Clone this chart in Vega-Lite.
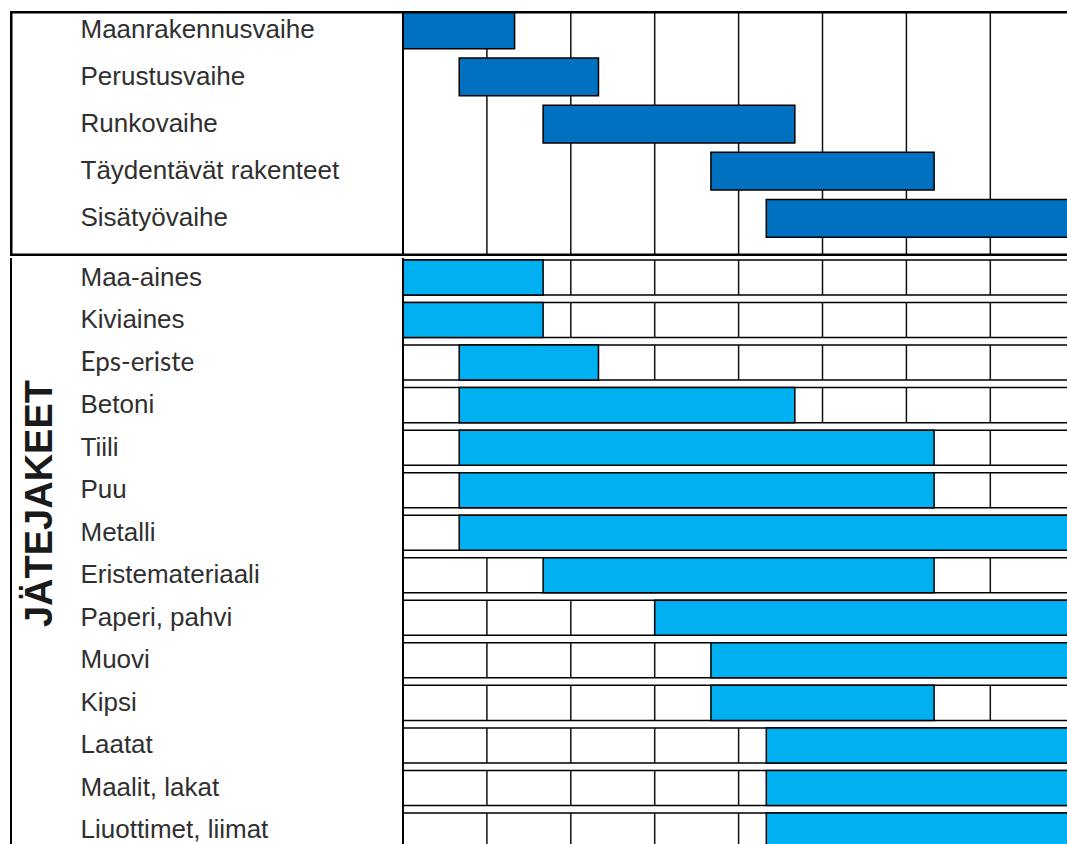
{
  "$schema": "https://vega.github.io/schema/vega-lite/v6.json",
  "padding": {"left": 10, "top": 10, "right": 0, "bottom": 0},
  "background": "white",
  "spacing": 0,
  "config": {
    "view": {"stroke": null},
    "axisY": {
      "domain": false, "ticks": false, "grid": false,
      "labelAlign": "left", "labelPadding": -70, "labelFontSize": 26,
      "labelFont": "Liberation Sans", "labelColor": "#303030", "labelLimit": 600
    }
  },
  "datasets": {
    "cols": [{"c": 1}, {"c": 2}, {"c": 3}, {"c": 4}, {"c": 5}, {"c": 6}, {"c": 7}],
    "frame": [{"k": "frame"}],
    "phases": [
      {"phase": "Maanrakennusvaihe", "start": 0, "end": 1.33},
      {"phase": "Perustusvaihe", "start": 0.67, "end": 2.33},
      {"phase": "Runkovaihe", "start": 1.67, "end": 4.67},
      {"phase": "Täydentävät rakenteet", "start": 3.67, "end": 6.33},
      {"phase": "Sisätyövaihe", "start": 4.33, "end": 8}
    ],
    "waste": [
      {"jae": "Maa-aines", "start": 0, "end": 1.67},
      {"jae": "Kiviaines", "start": 0, "end": 1.67},
      {"jae": "Eps-eriste", "start": 0.67, "end": 2.33},
      {"jae": "Betoni", "start": 0.67, "end": 4.67},
      {"jae": "Tiili", "start": 0.67, "end": 6.33},
      {"jae": "Puu", "start": 0.67, "end": 6.33},
      {"jae": "Metalli", "start": 0.67, "end": 8},
      {"jae": "Eristemateriaali", "start": 1.67, "end": 6.33},
      {"jae": "Paperi, pahvi", "start": 3, "end": 8},
      {"jae": "Muovi", "start": 3.67, "end": 8},
      {"jae": "Kipsi", "start": 3.67, "end": 6.33},
      {"jae": "Laatat", "start": 4.33, "end": 8},
      {"jae": "Maalit, lakat", "start": 4.33, "end": 8},
      {"jae": "Liuottimet, liimat", "start": 4.33, "end": 8}
    ]
  },
  "vconcat": [
    {
      "width": 1057,
      "height": 245,
      "layer": [
        {
          "data": {"name": "cols"},
          "mark": {"type": "rule", "color": "#111111", "strokeWidth": 1.5},
          "encoding": {
            "x": {"field": "c", "type": "quantitative", "scale": {"domain": [-4.684, 7.914], "nice": false, "zero": false}, "axis": null}
          }
        },
        {
          "data": {"name": "phases"},
          "mark": {"type": "bar", "color": "#0070C0", "stroke": "#000000", "strokeWidth": 1.5, "clip": true},
          "encoding": {
            "x": {"field": "start", "type": "quantitative", "scale": {"domain": [-4.684, 7.914], "nice": false, "zero": false}, "axis": null},
            "x2": {"field": "end"},
            "y": {"field": "phase", "type": "nominal", "sort": null,
              "scale": {"paddingInner": 0.2, "paddingOuter": 0.2, "align": 0, "round": false},
              "axis": {"title": null}}
          }
        },
        {
          "data": {"name": "frame"},
          "mark": {"type": "rule", "color": "#000000", "strokeWidth": 2},
          "encoding": {
            "x": {"datum": 0, "type": "quantitative", "scale": {"domain": [-4.684, 7.914], "nice": false, "zero": false}, "axis": null}
          }
        },
        {
          "data": {"name": "frame"},
          "mark": {"type": "rect", "filled": false, "stroke": "#000000", "strokeWidth": 5, "clip": true},
          "encoding": {
            "x": {"datum": -4.684, "type": "quantitative", "scale": {"domain": [-4.684, 7.914], "nice": false, "zero": false}, "axis": null},
            "x2": {"datum": 9}
          }
        }
      ]
    },
    {
      "width": 1057,
      "height": 589,
      "layer": [
        {
          "data": {"name": "waste"},
          "mark": {"type": "rect", "filled": false, "stroke": "#000000", "strokeWidth": 1.5, "clip": true},
          "encoding": {
            "x": {"datum": 0, "type": "quantitative", "scale": {"domain": [-4.684, 7.914], "nice": false, "zero": false}, "axis": null},
            "x2": {"datum": 9},
            "y": {"field": "jae", "type": "nominal", "sort": null,
              "scale": {"range": [0, 592], "paddingInner": 0.1763, "paddingOuter": 0.047, "align": 0.5, "round": false},
              "axis": {"title": "JÄTEJAKEET", "titleFontSize": 38, "titleFontWeight": "bold", "titleFont": "Liberation Sans",
                "titleColor": "#1a1a1a", "titleAngle": 270, "titleX": 30, "titleY": 245, "titleAlign": "center", "titleBaseline": "middle",
                "labelFont": {"condition": {"test": "datum.value === 'Eps-eriste'", "value": "Lato"}, "value": "Liberation Sans"}}}
          }
        },
        {
          "data": {"name": "cols"},
          "mark": {"type": "rule", "color": "#111111", "strokeWidth": 1.5, "strokeDash": [35, 7.54], "strokeDashOffset": 40.54, "clip": true},
          "encoding": {
            "x": {"field": "c", "type": "quantitative", "scale": {"domain": [-4.684, 7.914], "nice": false, "zero": false}, "axis": null}
          }
        },
        {
          "data": {"name": "waste"},
          "mark": {"type": "bar", "color": "#00B0F0", "stroke": "#000000", "strokeWidth": 1.5, "clip": true},
          "encoding": {
            "x": {"field": "start", "type": "quantitative", "scale": {"domain": [-4.684, 7.914], "nice": false, "zero": false}, "axis": null},
            "x2": {"field": "end"},
            "y": {"field": "jae", "type": "nominal", "sort": null}
          }
        },
        {
          "data": {"name": "frame"},
          "mark": {"type": "rule", "color": "#000000", "strokeWidth": 2},
          "encoding": {
            "x": {"datum": 0, "type": "quantitative", "scale": {"domain": [-4.684, 7.914], "nice": false, "zero": false}, "axis": null}
          }
        },
        {
          "data": {"name": "frame"},
          "mark": {"type": "rule", "color": "#000000", "strokeWidth": 4, "clip": true},
          "encoding": {
            "x": {"datum": -4.684, "type": "quantitative", "scale": {"domain": [-4.684, 7.914], "nice": false, "zero": false}, "axis": null}
          }
        }
      ]
    }
  ]
}
